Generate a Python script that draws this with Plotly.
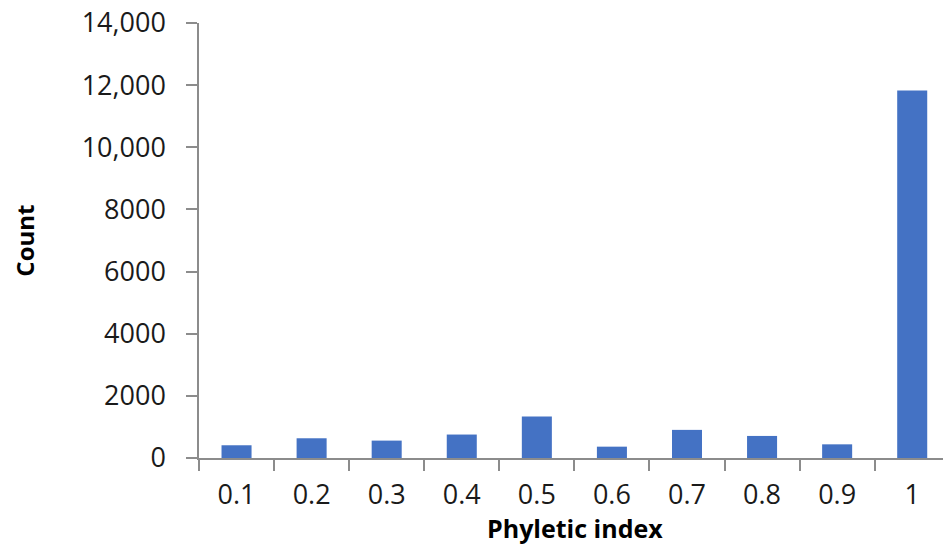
import plotly.graph_objects as go

categories = ["0.1", "0.2", "0.3", "0.4", "0.5", "0.6", "0.7", "0.8", "0.9", "1"]
counts = [410, 635, 560, 755, 1335, 365, 905, 710, 440, 11830]
y_tickvals = [0, 2000, 4000, 6000, 8000, 10000, 12000, 14000]
y_ticktext = ["0", "2000", "4000", "6000", "8000", "10,000", "12,000", "14,000"]

FONT = "'Open Sans', Lato, sans-serif"
AXIS_COLOR = "#8c8c8c"

fig = go.Figure(
    go.Bar(
        x=categories,
        y=counts,
        marker=dict(color="#4472C4", line=dict(width=0)),
        width=0.4,
    )
)

fig.update_layout(
    width=943,
    height=547,
    margin=dict(l=199, r=0, t=23, b=89),
    paper_bgcolor="white",
    plot_bgcolor="white",
    showlegend=False,
    font=dict(family=FONT, size=27, color="#1a1a1a"),
    xaxis=dict(
        type="category",
        range=[-0.5, 9.41],
        showline=True,
        linecolor=AXIS_COLOR,
        linewidth=1.5,
        ticks="outside",
        tickson="boundaries",
        ticklen=11,
        tickcolor=AXIS_COLOR,
        tickwidth=1.5,
        ticklabelstandoff=12,
        showgrid=False,
        zeroline=False,
        tickfont=dict(size=27),
    ),
    yaxis=dict(
        range=[0, 14000],
        tickvals=y_tickvals,
        ticktext=y_ticktext,
        showline=True,
        linecolor=AXIS_COLOR,
        linewidth=1.5,
        ticks="outside",
        ticklen=11,
        tickcolor=AXIS_COLOR,
        tickwidth=1.5,
        ticklabelstandoff=15,
        showgrid=False,
        zeroline=False,
        tickfont=dict(size=27),
    ),
    annotations=[
        dict(
            text="<b>Count</b>",
            xref="paper", yref="paper",
            x=-0.235, y=0.5,
            xanchor="center", yanchor="middle",
            textangle=-90,
            showarrow=False,
            font=dict(family=FONT, size=24, color="#000000"),
        ),
        dict(
            text="<b>Phyletic index</b>",
            xref="paper", yref="paper",
            x=0.5054, y=-0.161,
            xanchor="center", yanchor="middle",
            showarrow=False,
            font=dict(family=FONT, size=25, color="#000000"),
        ),
    ],
)

# Remove the browser's default 8px body margin so the figure sits at the page origin.
fig.write_html(
    "out.html",
    config={"displayModeBar": False},
    post_script="document.body.style.margin='0';",
)
